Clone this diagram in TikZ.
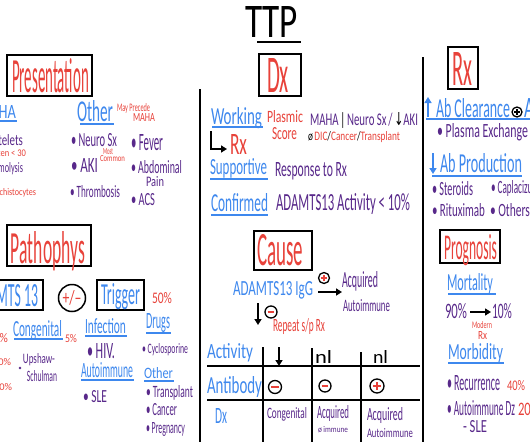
\documentclass[tikz,border=0pt]{standalone}
\usepackage{fontspec}
\usepackage{graphicx}
\setmainfont{Carlito}
\newfontfamily\symf{DejaVu Sans}
\usetikzlibrary{arrows.meta}
\definecolor{hred}{RGB}{232,66,58}
\definecolor{hblue}{RGB}{62,136,238}
\definecolor{hpur}{RGB}{88,40,138}
\newcommand\hwt[7]{\node[txt, text=#1] (#2) at (#3,#4) {\resizebox{#5pt}{#6pt}{#7}};}
\newcommand\hwtr[7]{\node[txt, anchor=base east, text=#1] (#2) at (#3,#4) {\resizebox{#5pt}{#6pt}{#7}};}
\newcommand\mycplus[5]{\node[circ, minimum size={2*#4pt}] (#1) at (#2,#3) {};
  \draw[#5, line width=1.5pt] ([xshift={-0.55*#4pt}]#1.center) -- ([xshift={0.55*#4pt}]#1.center)
    ([yshift={-0.55*#4pt}]#1.center) -- ([yshift={0.55*#4pt}]#1.center);}
\newcommand\mycminus[4]{\node[circ, minimum size={2*#4pt}] (#1) at (#2,#3) {};
  \draw[hred, line width=1.6pt] ([xshift={-0.55*#4pt}]#1.center) -- ([xshift={0.55*#4pt}]#1.center);}
\begin{document}
\begin{tikzpicture}[x=1pt,y=-1pt,
  txt/.style={inner sep=0pt, outer sep=0pt, anchor=base west},
  boxst/.style={draw=black, line width=1.6pt, inner sep=0pt},
  circ/.style={draw=black, circle, line width=1.3pt, inner sep=0pt},
  ul/.style={line width=1.1pt, #1},
  rule/.style={line width=1.6pt, black},
  arr/.style={line width=1.8pt, -{Triangle[length=6pt,width=7pt]}}]
\useasboundingbox (0,0) rectangle (530,442);
\fill[white] (0,0) rectangle (530,442);
\clip (0,0) rectangle (530,442);

% ---------- title ----------
\hwt{black}{ttl}{245}{37}{53}{31}{TTP}
\draw[line width=1.3pt] (257,42) -- (301,42);

% ---------- left: presentation ----------
\node[boxst, minimum width=85pt, minimum height=41pt] (presbox) at (49.5,75.5) {};
\hwt{hred}{tpres}{12}{92}{77}{34}{Presentation}
\hwtr{hblue}{tmaha}{16}{118}{38}{13}{MAHA}
\draw[ul=hblue] (-40,121) -- (17,121);
\hwtr{hpur}{tplt}{23}{145}{38}{11}{Platelets}
\hwtr{hred}{tplt2}{26}{156}{35}{7}{often < 30}
\hwtr{hpur}{themo}{23}{172}{34}{10}{Hemolysis}
\hwtr{hred}{tschi}{36}{195}{40}{7}{Schistocytes}
\hwt{hblue}{tother}{77}{121}{36}{21}{Other}
\draw[ul=hblue] (80,124) -- (114,124);
\hwt{hred}{tmay}{117}{111}{33}{8}{May Precede}
\hwt{hred}{tmay2}{133}{121}{22}{8}{MAHA}
\hwt{hpur}{tneuro}{71}{146}{46}{13}{\textbullet\ Neuro Sx}
\hwt{hred}{tmost}{103}{154}{10}{6}{Most}
\hwt{hred}{tcommon}{100}{161}{25}{6}{Common}
\hwt{hpur}{taki}{71}{172}{27}{14}{\textbullet\ AKI}
\hwt{hpur}{tthr}{70}{197}{50}{12}{\textbullet\ Thrombosis}
\hwt{hpur}{tfever}{131}{150}{32}{16}{\textbullet\ Fever}
\hwt{hpur}{tabd}{131}{173}{51}{13}{\textbullet\ Abdominal}
\hwt{hpur}{tpain}{146}{186}{18}{10}{Pain}
\hwt{hpur}{tacs}{131}{205}{24}{12}{\textbullet\ ACS}

% ---------- left: pathophys ----------
\node[boxst, minimum width=84pt, minimum height=41pt] (pathbox) at (49,245.5) {};
\hwt{hred}{tpath}{11}{263}{74}{32}{Pathophys}
\node[boxst, minimum width=75pt, minimum height=30pt] (adambox) at (5.5,295) {};
\hwtr{hblue}{tadam}{38}{306}{66}{22}{ADAMTS 13}
\node[circ, line width=1.5pt, minimum size=27pt] (pmc) at (72,298) {\resizebox{19pt}{14pt}{\textcolor{hred}{+/\textendash}}};
\node[boxst, minimum width=47pt, minimum height=30pt] (trigbox) at (120.5,295) {};
\hwt{hblue}{ttrig}{101}{304}{39}{21}{Trigger}
\hwt{hred}{t50}{152}{303}{20}{11}{50\%}
\hwt{hblue}{tcong}{13}{336}{49}{16}{Congenital}
\draw[ul=hblue] (14,339) -- (63,339);
\hwt{hred}{t5}{65}{342}{12}{8}{5\%}
\hwtr{hred}{tl95}{8}{342}{20}{9}{95\%}
\hwtr{hred}{tl40}{11}{365}{18}{7}{40\%}
\hwtr{hred}{tl50}{12}{390}{18}{7}{50\%}
\fill[hpur] (20,368) circle (1.4);
\hwt{hpur}{tups}{23}{363}{32}{10}{Upshaw-}
\hwt{hpur}{tsch}{27}{381}{30}{11}{Schulman}
\hwt{hblue}{tinf}{85}{333}{41}{15}{Infection}
\draw[ul=hblue] (85,336) -- (127,336);
\hwt{hpur}{thiv}{87}{358}{28}{15}{\textbullet\ HIV.}
\hwt{hblue}{tauto}{81}{377}{52}{15}{Autoimmune}
\draw[ul=hblue] (81,380) -- (134,380);
\hwt{hpur}{tsle}{83}{402}{24}{12}{\textbullet\ SLE}
\hwt{hblue}{tdrugs}{146}{328}{24}{15}{Drugs}
\draw[ul=hblue] (146,333) -- (171,333);
\hwt{hpur}{tcyc}{142}{353}{46}{10}{\textbullet\ Cyclosporine}
\hwt{hblue}{toth2}{144}{378}{29}{11}{Other}
\draw[ul=hblue] (144,381) -- (174,381);
\hwt{hpur}{ttx}{146}{397}{47}{12}{\textbullet\ Transplant}
\hwt{hpur}{tcan}{146}{415}{31}{12}{\textbullet\ Cancer}
\hwt{hpur}{tpreg}{146}{433}{39}{11}{\textbullet\ Pregnancy}

% ---------- centre: Dx ----------
\node[boxst, minimum width=42pt, minimum height=42pt] (dxbox) at (280,75) {};
\hwt{hred}{tdx}{267}{92}{22}{34}{Dx}
\draw[rule] (200,89) -- (200,442);
\hwt{hblue}{twork}{211}{124}{51}{17}{Working}
\draw[ul=hblue] (212,127) -- (263,127);
\hwt{hred}{tplas}{267}{122}{36}{12}{Plasmic}
\hwt{hred}{tscore}{272}{139}{25}{12}{Score}
\hwt{hpur}{tmaha2}{310}{125}{108}{13}{MAHA\,{\color{black}|}\,Neuro Sx\,/\,{\color{black}\symf ↓}AKI}
\hwt{hred}{tdic}{308}{140}{92}{9}{{\color{black}ø}\,DIC{\color{black}/}Cancer{\color{black}/}Transplant}
\coordinate (rxa) at (211,131);
\coordinate (rxb) at (227,149);
\draw[arr, line width=1.6pt] (rxa) |- (rxb);
\hwt{hred}{trx}{230}{154}{17}{20}{Rx}
\hwt{hblue}{tsupp}{210}{174}{57}{16}{Supportive}
\draw[ul=hblue] (210,179) -- (268,179);
\hwt{hpur}{tresp}{275}{176}{72}{14}{Response to Rx}
\hwt{hblue}{tconf}{211}{211}{57}{18}{Confirmed}
\draw[ul=hblue] (211,215) -- (268,215);
\hwt{hpur}{tact}{276}{210}{134}{17}{ADAMTS13 Activity < 10\%}

% ---------- centre: cause ----------
\node[boxst, minimum width=58pt, minimum height=39pt] (causebox) at (283,250.5) {};
\hwt{hred}{tcause}{257}{265}{46}{31}{Cause}
\hwt{hblue}{tigg}{233}{295}{80}{14}{ADAMTS13 IgG}
\mycplus{cp1}{324}{278}{5.5}{hred}
\coordinate (ig1) at (318,292);
\coordinate (ig2) at (342,292);
\draw[arr] (ig1) -- (ig2);
\hwt{hpur}{tacq1}{342}{287}{36}{16}{Acquired}
\hwt{hpur}{tacq2}{343}{311}{47}{12}{Autoimmune}
\coordinate (dn1) at (258,303);
\coordinate (dn2) at (258,325);
\draw[arr] (dn1) -- (dn2);
\mycminus{cm1}{271}{312}{6}
\hwt{hred}{trep}{273}{331}{52}{13}{Repeat s/p Rx}

% ---------- table ----------
\draw[rule] (207,366) -- (420,366);
\draw[rule] (207,400) -- (420,400);
\draw[rule] (263,347) -- (263,442);
\draw[rule] (312,348) -- (312,442);
\draw[rule] (361,352) -- (361,442);
\hwt{hblue}{tactiv}{207}{358}{46}{15}{Activity}
\hwt{hblue}{tanti}{207}{393}{55}{17}{Antibody}
\hwt{hblue}{tdx2}{215}{423}{12}{15}{Dx}
\coordinate (ta1) at (279,347);
\coordinate (ta2) at (279,366);
\draw[arr] (ta1) -- (ta2);
\hwt{black}{tnl1}{315}{363}{17}{13}{nl}
\hwt{black}{tnl2}{373}{363}{15}{13}{nl}
\mycminus{cm2}{275}{387}{6.5}
\mycminus{cm3}{325}{386}{6}
\mycplus{cp2}{377}{386}{7}{hred}
\hwt{hpur}{tcong2}{267}{418}{40}{11}{Congenital}
\hwt{hpur}{tacq3}{317}{418}{32}{13}{Acquired}
\hwt{hpur}{tnimm}{318}{432}{30}{6}{ø immune}
\hwt{hpur}{tacq4}{367}{420}{36}{13}{Acquired}
\hwt{hpur}{tacq5}{367}{437}{46}{9}{Autoimmune}

% ---------- right: Rx ----------
\draw[rule] (423,57) -- (423,442);
\node[boxst, minimum width=30pt, minimum height=42pt] (rxbox) at (463,68) {};
\hwt{hred}{trx2}{452}{85}{20}{33}{Rx}
\coordinate (up1) at (428,117);
\coordinate (up2) at (428,97);
\draw[arr, hblue] (up1) -- (up2);
\hwt{hblue}{tabc}{436}{117}{74}{19}{Ab Clearance}
\draw[ul=hblue] (426,119) -- (530,119);
\mycplus{cp3}{517}{112}{5}{black}
\hwt{hblue}{tabc2}{524}{117}{10}{19}{A}
\hwt{hpur}{tplasma}{437}{137}{91}{14}{\textbullet\ Plasma Exchange}
\coordinate (dp1) at (433,153);
\coordinate (dp2) at (433,174);
\draw[arr, hblue] (dp1) -- (dp2);
\hwt{hblue}{tabp}{440}{172}{82}{19}{Ab Production}
\draw[ul=hblue] (432,176) -- (522,176);
\hwt{hpur}{tster}{432}{195}{41}{14}{\textbullet\ Steroids}
\hwt{hpur}{tcapl}{491}{193}{58}{13}{\textbullet\ Caplacizumab}
\hwt{hpur}{tritu}{432}{216}{53}{13}{\textbullet\ Rituximab}
\hwt{hpur}{tothers}{490}{216}{40}{13}{\textbullet\ Others}

% ---------- right: prognosis ----------
\node[boxst, minimum width=60pt, minimum height=33pt] (progbox) at (470,246.5) {};
\hwt{hred}{tprog}{444}{259}{53}{25}{Prognosis}
\hwt{hblue}{tmort}{447}{290}{46}{17}{Mortality}
\draw[ul=hblue] (448,294) -- (496,294);
\hwt{hpur}{t90}{445}{318}{22}{15}{90\%}
\coordinate (m1) at (470,312);
\coordinate (m2) at (491,312);
\draw[arr, line width=1.4pt] (m1) -- (m2);
\hwt{hpur}{t10}{492}{318}{20}{15}{10\%}
\hwt{hred}{tmod}{472}{328}{20}{7}{Modern}
\hwt{hred}{tmodrx}{478}{339}{9}{8}{Rx}
\hwt{hblue}{tmorb}{448}{359}{55}{16}{Morbidity}
\draw[ul=hblue] (448,363) -- (504,363);
\hwt{hpur}{trec}{447}{390}{53}{15}{\textbullet\ Recurrence}
\hwt{hred}{t40}{507}{390}{18}{10}{40\%}
\hwt{hpur}{tadz}{447}{415}{68}{15}{\textbullet\ Autoimmune Dz}
\hwt{hred}{t20}{518}{415}{22}{13}{20\%}
\hwt{hpur}{tsle2}{463}{432}{24}{12}{- SLE}
\end{tikzpicture}
\end{document}
